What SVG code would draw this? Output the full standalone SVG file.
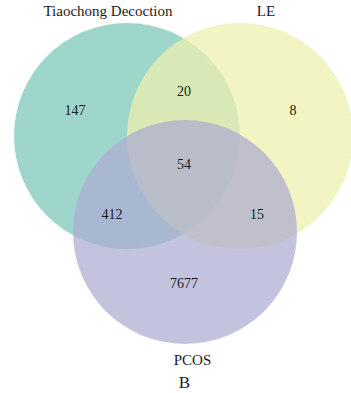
<svg xmlns="http://www.w3.org/2000/svg" width="351" height="393" viewBox="0 0 351 393">
<style>
.set{fill-opacity:0.72;stroke:none}
.lbl{font-family:"Liberation Serif","Times New Roman",serif;font-size:15px;fill:#1a1a1a;text-anchor:middle}
.num{font-family:"Liberation Serif","Times New Roman",serif;font-size:14px;fill:#1a1a1a;text-anchor:middle}
</style>
<rect width="351" height="393" fill="#ffffff"/>
<g id="set-tiaochong"><circle class="set" cx="127" cy="136" r="113" fill="#7ac6b8"/></g>
<g id="set-le"><circle class="set" cx="240" cy="136" r="113" fill="#eef0ac"/></g>
<g id="set-pcos"><circle class="set" cx="185" cy="232" r="112" fill="#acacd1"/></g>
<g id="connectors"></g>
<g id="labels">
<text class="lbl" x="108" y="16">Tiaochong Decoction</text>
<text class="lbl" x="266" y="16">LE</text>
<text class="lbl" x="192.5" y="365">PCOS</text>
<text class="lbl" x="184.5" y="388" style="font-size:17px">B</text>
</g>
<g id="counts">
<text class="num" x="75" y="115">147</text>
<text class="num" x="184" y="96">20</text>
<text class="num" x="293" y="115">8</text>
<text class="num" x="184" y="169">54</text>
<text class="num" x="112" y="219">412</text>
<text class="num" x="257" y="219">15</text>
<text class="num" x="184" y="288">7677</text>
</g>
</svg>
